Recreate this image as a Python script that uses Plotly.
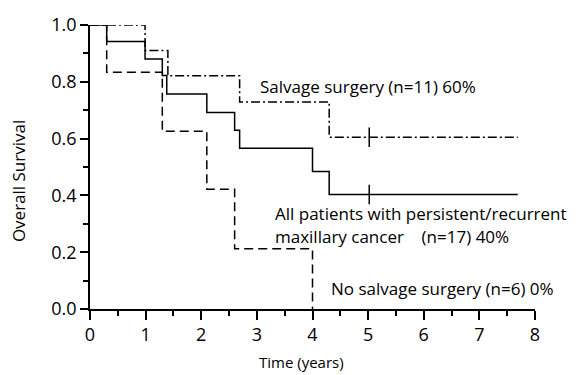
import plotly.graph_objects as go

# Kaplan-Meier step data (time in years, survival proportion)
all_t = [0, 0.30, 0.99, 1.30, 1.38, 2.10, 2.60, 2.69, 4.00, 4.30, 7.69]
all_s = [1.0, 0.942, 0.880, 0.822, 0.757, 0.692, 0.629, 0.566, 0.484, 0.403, 0.403]

salv_t = [0, 0.99, 1.40, 2.69, 4.30, 7.69]
salv_s = [1.0, 0.910, 0.821, 0.729, 0.605, 0.605]

nosalv_t = [0, 0.30, 1.30, 2.10, 2.60, 4.00]
nosalv_s = [1.0, 0.834, 0.626, 0.422, 0.212, 0.0]

# censored observations
cens_t = [5.02, 5.02]
cens_s = [0.403, 0.605]

x_ticks = [0, 1, 2, 3, 4, 5, 6, 7, 8]
y_ticks = [0.0, 0.2, 0.4, 0.6, 0.8, 1.0]

FONT = "Open Sans"
fig = go.Figure()

fig.add_trace(go.Scatter(x=all_t, y=all_s, mode="lines", line_shape="hv",
                         line=dict(color="black", width=1.5)))
fig.add_trace(go.Scatter(x=salv_t, y=salv_s, mode="lines", line_shape="hv",
                         line=dict(color="black", width=1.5, dash="9px,3px,2px,3px")))
fig.add_trace(go.Scatter(x=nosalv_t, y=nosalv_s, mode="lines", line_shape="hv",
                         line=dict(color="black", width=1.5, dash="9px,5px")))
fig.add_trace(go.Scatter(x=cens_t, y=cens_s, mode="markers",
                         marker=dict(symbol="line-ns", size=14,
                                     line=dict(color="black", width=1.5))))

ann_font = dict(family=FONT, size=17, color="black")
fig.add_annotation(x=3.02, y=0.783, text="Salvage surgery (n=11) 60%",
                   showarrow=False, xanchor="left", yanchor="middle", font=ann_font)
fig.add_annotation(x=3.29, y=0.337, text="All patients with persistent/recurrent",
                   showarrow=False, xanchor="left", yanchor="middle", font=ann_font)
fig.add_annotation(x=3.29, y=0.256, text="maxillary cancer    (n=17) 40%",
                   showarrow=False, xanchor="left", yanchor="middle", font=ann_font)
fig.add_annotation(x=4.29, y=0.072, text="No salvage surgery (n=6) 0%",
                   showarrow=False, xanchor="left", yanchor="middle", font=ann_font)

# axis titles
fig.add_annotation(x=3.81, y=-0.187, xref="x", yref="paper", text="Time (years)",
                   showarrow=False, xanchor="center", yanchor="middle",
                   font=dict(family=FONT, size=15, color="black"))
fig.add_annotation(x=-0.162, y=0.45, xref="paper", yref="paper", text="Overall Survival",
                   showarrow=False, xanchor="center", yanchor="middle", textangle=-90,
                   font=dict(family=FONT, size=17, color="black"))

fig.update_layout(
    width=586, height=375,
    margin=dict(l=90, r=51, t=20, b=66),
    paper_bgcolor="white", plot_bgcolor="white",
    showlegend=False,
    font=dict(family=FONT, color="black"),
)
fig.update_xaxes(
    range=[0, 8], tickvals=x_ticks, ticktext=[str(v) for v in x_ticks],
    showgrid=False, zeroline=False, showline=True, linecolor="black", linewidth=1.5,
    ticks="outside", ticklen=9, tickwidth=1.5, tickcolor="black",
    tickfont=dict(family=FONT, size=18),
    minor=dict(tickvals=[0.5, 1.5, 2.5, 3.5, 4.5, 5.5, 6.5, 7.5], ticks="outside",
               ticklen=5, tickwidth=1.5, tickcolor="black"),
)
fig.update_yaxes(
    range=[0, 1], tickvals=y_ticks, ticktext=[f"{v:.1f}" for v in y_ticks],
    showgrid=False, zeroline=False, showline=True, linecolor="black", linewidth=1.5,
    ticks="outside", ticklen=8, tickwidth=1.5, tickcolor="black",
    tickfont=dict(family=FONT, size=18),
    minor=dict(tickvals=[0.1, 0.3, 0.5, 0.7, 0.9], ticks="outside",
               ticklen=5, tickwidth=1.5, tickcolor="black"),
)

fig.write_html("out.html")
